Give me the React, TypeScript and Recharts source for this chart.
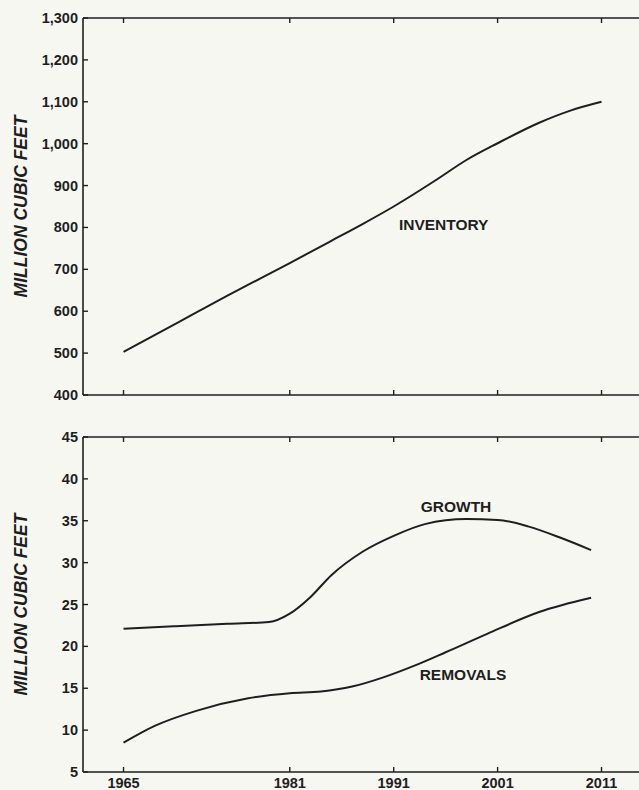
import { LineChart, Line, XAxis, YAxis, ReferenceDot } from 'recharts';

// upper panel: inventory
const inventoryYears = [1965, 1970, 1975, 1981, 1985, 1988, 1991, 1995, 1998, 2001, 2005, 2008, 2011];
const inventory = [503, 570, 637, 715, 768, 808, 850, 912, 961, 1001, 1050, 1079, 1100];

// lower panel: growth and removals
const growthYears = [1965, 1970, 1975, 1979, 1981, 1983, 1985, 1988, 1991, 1994, 1998, 2001, 2004, 2007, 2010];
const growth = [22.1, 22.4, 22.7, 22.9, 23.9, 25.9, 28.5, 31.3, 33.2, 34.6, 35.2, 35.1, 34.3, 33.0, 31.5];
const removalYears = [1965, 1968, 1972, 1977, 1981, 1984, 1987, 1990, 1993, 1996, 2000, 2005, 2010];
const removals = [8.5, 10.5, 12.3, 13.8, 14.4, 14.6, 15.2, 16.3, 17.7, 19.3, 21.5, 24.1, 25.8];

const yearTicks = [1965, 1981, 1991, 2001, 2011];
const inventoryTicks = [400, 500, 600, 700, 800, 900, 1000, 1100, 1200, 1300];
const flowTicks = [5, 10, 15, 20, 25, 30, 35, 40, 45];

const INK = '#1e1e1e';
const FONT = '"Liberation Sans", Arial, Helvetica, sans-serif';
const X_DOMAIN: [number, number] = [1961.1, 2014.8];

const toPoints = (xs: number[], ys: number[]) => xs.map((year, i) => ({ year, value: ys[i] }));

const LeftTick = (p: any) => (
  <g>
    <line x1={p.x} x2={p.x + 5} y1={p.y} y2={p.y} stroke={INK} strokeWidth={1.4} />
    <text
      x={p.x - 5}
      y={p.y}
      textAnchor="end"
      dominantBaseline="central"
      fill={INK}
      fontFamily={FONT}
      fontWeight="bold"
      fontSize={14.5}
    >
      {p.payload.value.toLocaleString('en-US')}
    </text>
  </g>
);

const RightTick = (p: any) => (
  <line x1={p.x} x2={p.x - 5} y1={p.y} y2={p.y} stroke={INK} strokeWidth={1.4} />
);

const TopTick = (p: any) => (
  <line x1={p.x} x2={p.x} y1={p.y} y2={p.y + 5} stroke={INK} strokeWidth={1.4} />
);

const BottomTick = (p: any) => (
  <g>
    <line x1={p.x} x2={p.x} y1={p.y} y2={p.y - 5} stroke={INK} strokeWidth={1.4} />
    {p.showLabel && (
      <text
        x={p.x}
        y={p.y + 15.5}
        textAnchor="middle"
        fill={INK}
        fontFamily={FONT}
        fontWeight="bold"
        fontSize={14.5}
      >
        {p.payload.value}
      </text>
    )}
  </g>
);

const axisTitle = (props: any) => {
  const vb = props.viewBox;
  const cx = 21;
  const cy = vb.y + vb.height / 2;
  return (
    <text
      x={cx}
      y={cy}
      transform={`rotate(-90 ${cx} ${cy})`}
      textAnchor="middle"
      dominantBaseline="central"
      fill={INK}
      fontFamily={FONT}
      fontWeight="bold"
      fontStyle="italic"
      fontSize={17.5}
    >
      MILLION CUBIC FEET
    </text>
  );
};

const seriesLabel = (text: string) => (props: any) => (
  <text
    x={props.viewBox.x}
    y={props.viewBox.y}
    dominantBaseline="central"
    fill={INK}
    fontFamily={FONT}
    fontWeight="bold"
    fontSize={15.5}
  >
    {text}
  </text>
);

const axisLine = { stroke: INK, strokeWidth: 1.6 };

function Panel({ height, top, bottom, domain, ticks, showYears, children }: any) {
  return (
    <LineChart width={660} height={height} margin={{ top: 0, right: 0, bottom: 0, left: 0 }}>
      <XAxis
        dataKey="year"
        type="number"
        domain={X_DOMAIN}
        allowDataOverflow
        ticks={yearTicks}
        height={bottom}
        tickSize={0}
        tickMargin={0}
        axisLine={axisLine}
        tickLine={false}
        tick={(p: any) => <BottomTick {...p} showLabel={showYears} />}
        interval={0}
      />
      <XAxis
        xAxisId="top"
        orientation="top"
        dataKey="year"
        type="number"
        domain={X_DOMAIN}
        allowDataOverflow
        ticks={yearTicks}
        height={top}
        tickSize={0}
        tickMargin={0}
        axisLine={axisLine}
        tickLine={false}
        tick={(p: any) => <TopTick {...p} />}
        interval={0}
      />
      <YAxis
        type="number"
        domain={domain}
        ticks={ticks}
        width={83}
        tickSize={0}
        tickMargin={0}
        axisLine={axisLine}
        tickLine={false}
        tick={(p: any) => <LeftTick {...p} />}
        interval={0}
        label={{ content: axisTitle }}
      />
      <YAxis
        yAxisId="right"
        orientation="right"
        type="number"
        domain={domain}
        ticks={ticks}
        width={19}
        tickSize={0}
        tickMargin={0}
        axisLine={false}
        tickLine={false}
        tick={(p: any) => <RightTick {...p} />}
        interval={0}
      />
      {children}
    </LineChart>
  );
}

export default function App() {
  return (
    <div
      style={{
        position: 'absolute',
        left: 0,
        top: 0,
        width: 639,
        height: 790,
        overflow: 'hidden',
        background: '#f7f7f2',
      }}
    >
      <div style={{ position: 'absolute', left: 0, top: 0 }}>
        <Panel height={412} top={18} bottom={17} domain={[400, 1300]} ticks={inventoryTicks} showYears={false}>
          <Line
            data={toPoints(inventoryYears, inventory)}
            dataKey="value"
            type="monotone"
            stroke={INK}
            strokeWidth={2}
            dot={false}
            isAnimationActive={false}
          />
          <ReferenceDot x={1991.5} y={806} r={0} fill="none" stroke="none" label={{ content: seriesLabel('INVENTORY') }} />
        </Panel>
      </div>
      <div style={{ position: 'absolute', left: 0, top: 420 }}>
        <Panel height={370} top={17} bottom={18} domain={[5, 45]} ticks={flowTicks} showYears>
          <Line
            data={toPoints(growthYears, growth)}
            dataKey="value"
            type="monotone"
            stroke={INK}
            strokeWidth={2}
            dot={false}
            isAnimationActive={false}
          />
          <Line
            data={toPoints(removalYears, removals)}
            dataKey="value"
            type="monotone"
            stroke={INK}
            strokeWidth={2}
            dot={false}
            isAnimationActive={false}
          />
          <ReferenceDot x={1993.6} y={36.7} r={0} fill="none" stroke="none" label={{ content: seriesLabel('GROWTH') }} />
          <ReferenceDot x={1993.5} y={16.7} r={0} fill="none" stroke="none" label={{ content: seriesLabel('REMOVALS') }} />
        </Panel>
      </div>
    </div>
  );
}
